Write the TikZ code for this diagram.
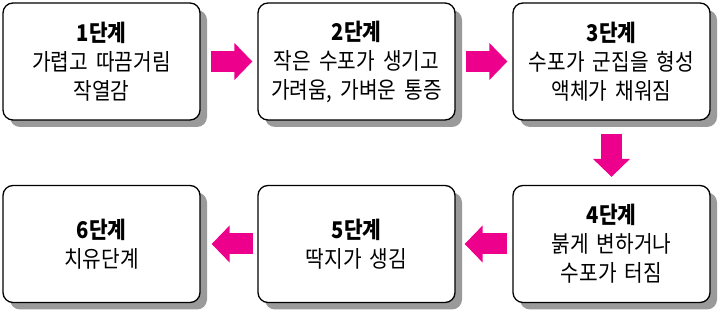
\documentclass[tikz,border=0pt]{standalone}
\usepackage{fontspec}
\setmainfont{Noto Sans CJK KR}[FakeStretch=0.88, WordSpace=1.8]
\usetikzlibrary{shadows, arrows.meta}
\definecolor{step-pink}{HTML}{EC008C}
\definecolor{shadow-gray}{HTML}{9A9A9A}

\begin{document}
\begin{tikzpicture}[x=1pt, y=1pt,
      every node/.style={font=\fontsize{23}{29}\selectfont},
      stagebox/.style={draw=black, line width=1.3pt, fill=white,
          rounded corners=10pt, minimum width=197pt, minimum height=117pt,
          align=center, inner sep=0pt,
          drop shadow={shadow xshift=7pt, shadow yshift=-7pt,
          fill=shadow-gray, opacity=1}},
      flow/.style={step-pink, line width=21pt,
          -{Triangle[length=18pt, width=36pt]}}]
    \useasboundingbox (0,0) rectangle (720,313);
    % upper row
    \node[stagebox] (S1) at (101.5,251.5)
          {\textbf{1단계}\\가렵고 따끔거림\\작열감};
    \node[stagebox] (S2) at (356.5,251.5)
          {\textbf{2단계}\\작은 수포가 생기고\\가려움, 가벼운 통증};
    \node[stagebox] (S3) at (611.5,251.5)
          {\textbf{3단계}\\수포가 군집을 형성\\액체가 채워짐};
    % lower row
    \node[stagebox] (S4) at (611.5,69)
          {\textbf{4단계}\\붉게 변하거나\\수포가 터짐};
    \node[stagebox] (S5) at (356.5,69)
          {\textbf{5단계}\\딱지가 생김};
    \node[stagebox] (S6) at (101.5,69)
          {\textbf{6단계}\\치유단계};
    \draw[flow, shorten <=10pt, shorten >=5pt] (S1.east) -- (S2.west);
    \draw[flow, shorten <=10pt, shorten >=5pt] (S2.east) -- (S3.west);
    \draw[flow, shorten <=13pt, shorten >=8pt] (S3.south) -- (S4.north);
    \draw[flow, shorten <=5pt, shorten >=9pt] (S4.west) -- (S5.east);
    \draw[flow, shorten <=4pt, shorten >=11pt] (S5.west) -- (S6.east);
  \end{tikzpicture}
\end{document}
